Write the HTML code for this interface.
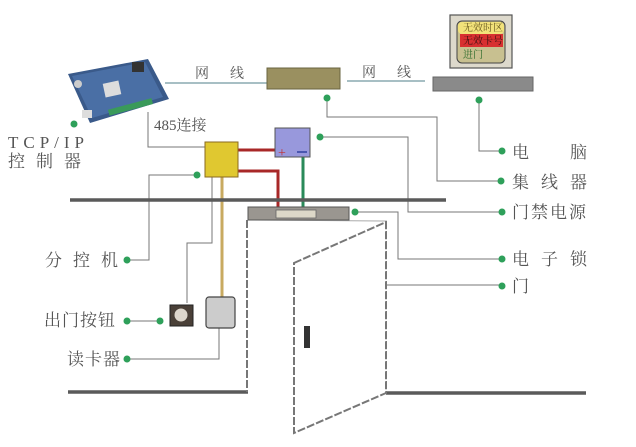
<!DOCTYPE html>
<html><head><meta charset="utf-8"><style>
html,body{margin:0;padding:0;background:#fff;}
svg{display:block;}
text{font-family:"Liberation Serif","Noto Serif CJK SC","Noto Sans CJK SC",serif;fill:#555;}
</style></head><body>
<svg width="636" height="447" viewBox="0 0 636 447" xmlns="http://www.w3.org/2000/svg">
<rect width="636" height="447" fill="#fff"/>
<!-- board -->
<polygon points="68,74 148,59 169,99 90,123" fill="#3a5a8a"/>
<polygon points="72,76 145,62 163,97 92,118" fill="#4a6fa5"/>
<rect x="104" y="82" width="16" height="14" fill="#ddd" transform="rotate(-12 112 89)"/>
<rect x="132" y="62" width="12" height="10" fill="#333"/>
<rect x="108" y="104" width="45" height="6" fill="#3a9a5a" transform="rotate(-15 130 107)"/>
<circle cx="78" cy="84" r="4" fill="#ccc"/>
<rect x="82" y="110" width="10" height="8" fill="#ddd"/>
<circle cx="74" cy="124" r="3.5" fill="#2ea05a"/>
<!-- network lines -->
<line x1="165" y1="83" x2="268" y2="83" stroke="#8aaab0" stroke-width="1.5"/>
<text x="195" y="78" font-size="14">网</text><text x="230" y="78" font-size="14">线</text>
<rect x="267" y="68" width="73" height="21" fill="#9a9060" stroke="#6a6440" stroke-width="1"/>
<line x1="347" y1="81" x2="425" y2="81" stroke="#8aaab0" stroke-width="1.5"/>
<text x="362" y="77" font-size="14">网</text><text x="397" y="77" font-size="14">线</text>
<!-- computer -->
<rect x="450" y="15" width="62" height="53" fill="#ddd9cc" stroke="#555" stroke-width="1.2"/>
<rect x="457" y="21" width="48" height="42" rx="5" fill="#c8c090" stroke="#444" stroke-width="1"/>
<rect x="458" y="22" width="46" height="12" rx="4" fill="#f2e27a"/>
<rect x="460" y="34" width="43" height="13" fill="#d83030"/>
<text x="463" y="31" font-size="10" style="fill:#6a5a20">无效时区</text>
<text x="463" y="44" font-size="10" style="fill:#3a1010">无效卡号</text>
<text x="463" y="58" font-size="10" style="fill:#2a6a2a">进门</text>
<rect x="433" y="77" width="100" height="14" fill="#8a8a8a" stroke="#666"/>
<!-- connectors right -->
<g stroke="#777" stroke-width="1" fill="none">
<polyline points="327,98 327,117 437,117 437,181 501,181"/>
<polyline points="479,100 479,151 502,151"/>
<polyline points="320,137 408,137 408,212 502,212"/>
<polyline points="355,212 398,212 398,259 502,259"/>
<polyline points="363,285 502,285"/>
<polyline points="148,112 148,147 205,147"/>
<polyline points="127,260 149,260 149,175 197,175"/>
<polyline points="212,177 212,243 187,243 187,303"/>
<polyline points="127,321 160,321"/>
<polyline points="219,320 219,359 127,359"/>
</g>
<g fill="#2ea05a">
<circle cx="327" cy="98" r="3.5"/><circle cx="501" cy="181" r="3.5"/>
<circle cx="479" cy="100" r="3.5"/><circle cx="502" cy="151" r="3.5"/>
<circle cx="320" cy="137" r="3.5"/><circle cx="502" cy="212" r="3.5"/>
<circle cx="355" cy="212" r="3.5"/><circle cx="502" cy="259" r="3.5"/>
<circle cx="363" cy="285" r="3.5"/><circle cx="502" cy="286" r="3.5"/>
<circle cx="197" cy="175" r="3.5"/><circle cx="127" cy="260" r="3.5"/>
<circle cx="160" cy="321" r="3.5"/><circle cx="127" cy="321" r="3.5"/>
<circle cx="219" cy="320" r="3.5"/><circle cx="127" cy="359" r="3.5"/>
</g>
<text x="154" y="130" font-size="15">485连接</text>
<!-- wires -->
<polyline points="238,150 278,150" stroke="#a82828" stroke-width="3" fill="none"/>
<polyline points="238,171 278,171 278,208" stroke="#a82828" stroke-width="3" fill="none"/>
<line x1="303" y1="157" x2="303" y2="208" stroke="#2a8a5a" stroke-width="3"/>
<line x1="222" y1="177" x2="222" y2="298" stroke="#c8aa60" stroke-width="3"/>
<!-- power -->
<rect x="275" y="128" width="35" height="29" fill="#9898dc" stroke="#555"/>
<text x="278" y="157" font-size="14" style="fill:#c03030">+</text>
<line x1="297" y1="152" x2="307" y2="152" stroke="#3040a0" stroke-width="1.5"/>
<!-- sub controller -->
<rect x="205" y="142" width="33" height="35" fill="#e0c830" stroke="#8a6a20"/>
<!-- walls -->
<line x1="70" y1="200" x2="446" y2="200" stroke="#5a5a5a" stroke-width="3.5"/>
<line x1="68" y1="392" x2="248" y2="392" stroke="#5a5a5a" stroke-width="3.5"/>
<line x1="386" y1="393" x2="586" y2="393" stroke="#5a5a5a" stroke-width="3.5"/>
<line x1="247" y1="220" x2="247" y2="392" stroke="#777" stroke-width="2" stroke-dasharray="8,2"/>
<line x1="386" y1="221" x2="386" y2="393" stroke="#777" stroke-width="2" stroke-dasharray="8,2"/>
<line x1="248" y1="220" x2="386" y2="221" stroke="#aaa" stroke-width="1"/>
<!-- lock -->
<rect x="248" y="207" width="101" height="13" fill="#9a9690" stroke="#555"/>
<rect x="276" y="210" width="40" height="8" fill="#ddd8c8" stroke="#666" stroke-width="0.8"/>
<!-- door -->
<polygon points="294,263 386,222 386,393 294,433" fill="#fff" stroke="#777" stroke-width="2" stroke-dasharray="8,2"/>
<rect x="304" y="326" width="6" height="22" fill="#333"/>
<!-- button & reader -->
<rect x="170" y="305" width="23" height="21" fill="#4a4038" stroke="#222"/>
<circle cx="181" cy="315" r="6.5" fill="#ddd6cc"/>
<rect x="206" y="297" width="29" height="31" rx="3" fill="#ccc" stroke="#444" stroke-width="1.2"/>
<!-- labels -->
<g font-size="17">
<text x="8" y="148" letter-spacing="5">TCP/IP</text>
<text x="8" y="167">控</text><text x="36" y="167">制</text><text x="64" y="167">器</text>
<text x="45" y="266">分</text><text x="73" y="266">控</text><text x="101" y="266">机</text>
<text x="44" y="326" letter-spacing="1">出门按钮</text>
<text x="67" y="365" letter-spacing="1">读卡器</text>
<text x="512" y="158">电</text><text x="570" y="158">脑</text>
<text x="512" y="188">集</text><text x="541" y="188">线</text><text x="570" y="188">器</text>
<text x="512" y="218" letter-spacing="2">门禁电源</text>
<text x="512" y="265">电</text><text x="541" y="265">子</text><text x="570" y="265">锁</text>
<text x="512" y="292">门</text>
</g>
</svg>
</body></html>
